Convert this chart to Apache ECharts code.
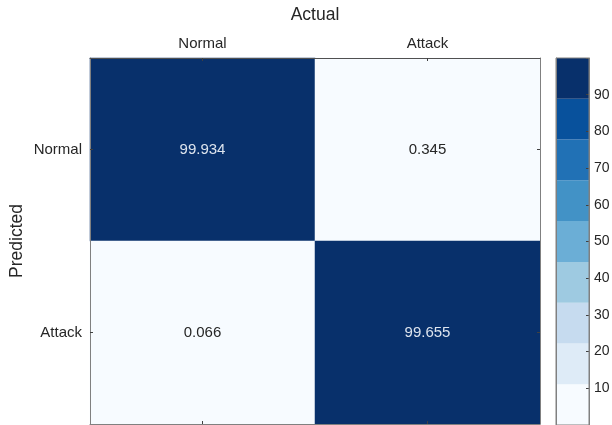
<!DOCTYPE html>
<html>
<head>
<meta charset="utf-8">
<script src="https://cdn.jsdelivr.net/npm/echarts@6/dist/echarts.min.js"></script>
<style>
  html, body { margin: 0; padding: 0; background: #ffffff; }
  #chart { width: 612px; height: 425px; }
</style>
</head>
<body>
<div id="chart"></div>
<script>
// Confusion matrix: rows = predicted class, columns = actual class (percent)
const actualClasses = ['Normal', 'Attack'];
const predictedClasses = ['Normal', 'Attack'];
const rowNormal = [99.934, 0.345];
const rowAttack = [0.066, 99.655];

// Colour scale: 9 discrete levels spanning 0–100
const levelColors = ['#f7fbff', '#deebf7', '#c6dbef', '#9ecae1', '#6baed6',
                     '#4292c6', '#2171b5', '#08519c', '#08306b'];
const scaleMin = 0;
const scaleMax = 100;
const colorbarTicks = [10, 20, 30, 40, 50, 60, 70, 80, 90];

const FONT = '"Liberation Sans", Arial, Helvetica, sans-serif';
const AXIS_GRAY = '#808080';
const TEXT = '#262626';

const rows = [rowNormal, rowAttack];
const cells = [];
rows.forEach((row, yi) => {
  row.forEach((v, xi) => {
    cells.push({
      value: [xi, yi, v],
      label: { color: v > 50 ? '#dde4ee' : TEXT }
    });
  });
});

const step = (scaleMax - scaleMin) / levelColors.length;
const pieces = levelColors.map((c, i) => ({
  gte: scaleMin + i * step,
  lt: i === levelColors.length - 1 ? scaleMax + 1 : scaleMin + (i + 1) * step,
  color: c
}));
const bands = levelColors.map((c, i) => [scaleMin + i * step, scaleMin + (i + 1) * step, i]);

const catAxisCommon = {
  type: 'category',
  z: 5,
  axisLine: { show: true, lineStyle: { color: AXIS_GRAY, width: 1 } },
  axisTick: { show: true, inside: true, length: 3, alignWithLabel: true, lineStyle: { color: '#404040' } },
  splitLine: { show: false },
  axisLabel: { color: TEXT, fontSize: 15, fontFamily: FONT },
  nameTextStyle: { color: TEXT, fontSize: 17.5, fontFamily: FONT },
  nameMoveOverlap: false
};

const chart = echarts.init(document.getElementById('chart'), null, { renderer: 'canvas' });
chart.setOption({
  animation: false,
  backgroundColor: '#ffffff',
  grid: [
    { left: 90, top: 58, width: 450, height: 366, containLabel: false, outerBoundsMode: 'none' },
    { left: 556, top: 58, width: 33, height: 367, containLabel: false, outerBoundsMode: 'none' }
  ],
  xAxis: [
    Object.assign({}, catAxisCommon, {
      gridIndex: 0, position: 'top', data: actualClasses,
      axisLine: { show: true, lineStyle: { color: '#505050', width: 1 } },
      axisLabel: Object.assign({}, catAxisCommon.axisLabel, { margin: 7 }),
      name: 'Actual', nameLocation: 'middle', nameGap: 34
    }),
    Object.assign({}, catAxisCommon, {
      gridIndex: 0, position: 'bottom', data: actualClasses,
      axisLabel: { show: false }
    }),
    {
      type: 'category', gridIndex: 1, data: [''],
      axisLine: { show: false }, axisTick: { show: false }, axisLabel: { show: false }
    }
  ],
  yAxis: [
    Object.assign({}, catAxisCommon, {
      gridIndex: 0, position: 'left', data: predictedClasses, inverse: true,
      axisLabel: Object.assign({}, catAxisCommon.axisLabel, { margin: 8 }),
      name: 'Predicted', nameLocation: 'middle', nameGap: 64, nameRotate: 90
    }),
    Object.assign({}, catAxisCommon, {
      gridIndex: 0, position: 'right', data: predictedClasses, inverse: true,
      axisLabel: { show: false }
    }),
    {
      type: 'value', gridIndex: 1, position: 'right', z: 5,
      min: scaleMin, max: scaleMax, interval: 10,
      axisLine: { show: true, lineStyle: { color: AXIS_GRAY } },
      axisTick: { show: true, inside: true, length: 3, lineStyle: { color: '#404040' } },
      splitLine: { show: false },
      axisLabel: {
        color: TEXT, fontSize: 14, fontFamily: FONT, margin: 5,
        formatter: v => (colorbarTicks.indexOf(v) >= 0 ? String(v) : '')
      }
    },
    {
      type: 'value', gridIndex: 1, position: 'left', z: 5,
      min: scaleMin, max: scaleMax,
      axisLine: { show: true, lineStyle: { color: AXIS_GRAY } },
      axisTick: { show: false }, axisLabel: { show: false }, splitLine: { show: false }
    }
  ],
  visualMap: {
    type: 'piecewise', show: false, seriesIndex: 0, dimension: 2, pieces: pieces
  },
  series: [
    {
      type: 'heatmap',
      z: 1,
      xAxisIndex: 0, yAxisIndex: 0,
      data: cells,
      label: {
        show: true, fontSize: 15, fontFamily: FONT,
        formatter: p => p.value[2].toFixed(3)
      },
      itemStyle: { borderWidth: 0 },
      emphasis: { disabled: true }
    },
    {
      type: 'custom',
      z: 1,
      xAxisIndex: 2, yAxisIndex: 2,
      data: bands,
      renderItem: function (params, api) {
        const lo = api.coord([0, api.value(0)]);
        const hi = api.coord([0, api.value(1)]);
        const w = api.size([1, 0])[0];
        return {
          type: 'rect',
          shape: { x: lo[0] - w / 2, y: hi[1], width: w, height: lo[1] - hi[1] },
          style: { fill: levelColors[api.value(2)] }
        };
      }
    }
  ],
  graphic: [
    {
      type: 'rect', z: 10, silent: true,
      shape: { x: 556, y: 58, width: 33, height: 367 },
      style: { fill: 'none', stroke: AXIS_GRAY, lineWidth: 1 }
    }
  ]
});
</script>
</body>
</html>
